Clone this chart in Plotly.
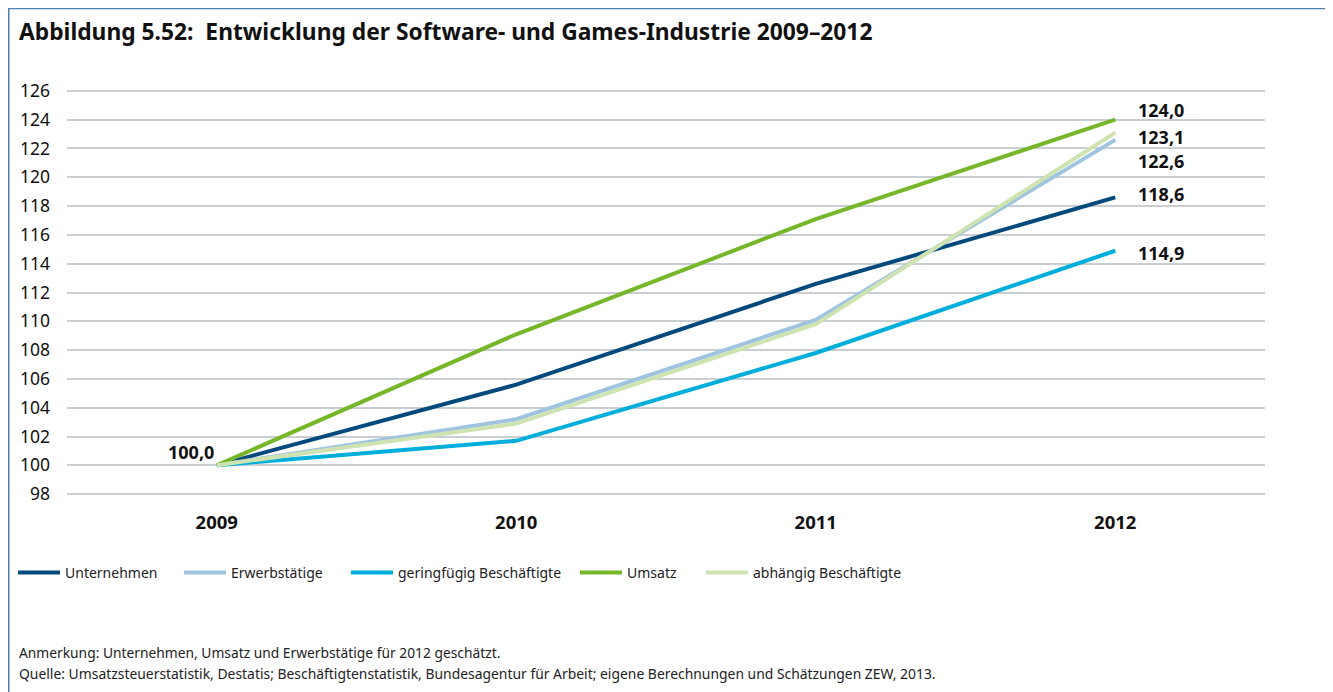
import plotly.graph_objects as go

years = ["2009", "2010", "2011", "2012"]
series_names = ["Unternehmen", "Erwerbstätige", "geringfügig Beschäftigte", "Umsatz", "abhängig Beschäftigte"]
unternehmen = [100.0, 105.6, 112.6, 118.6]
erwerbstaetige = [100.0, 103.2, 110.1, 122.6]
geringfuegig = [100.0, 101.7, 107.8, 114.9]
umsatz = [100.0, 109.1, 117.1, 124.0]
abhaengig = [100.0, 102.9, 109.8, 123.1]
colors = ["#00497d", "#9ec4e0", "#00aedb", "#76b72a", "#cfe3b1"]

y_ticks = list(range(98, 127, 2))
end_labels = ["118,6", "122,6", "114,9", "124,0", "123,1"]
start_label = "100,0"
title = "Abbildung 5.52:  Entwicklung der Software- und Games-Industrie 2009–2012"
note1 = "Anmerkung: Unternehmen, Umsatz und Erwerbstätige für 2012 geschätzt."
note2 = ("Quelle: Umsatzsteuerstatistik, Destatis; Beschäftigtenstatistik, Bundesagentur für Arbeit; "
         "eigene Berechnungen und Schätzungen ZEW, 2013.")

FONT = "Noto Sans"
OFF = 8  # page body margin
W, H = 1333, 692
L, R = 67 - OFF, 1265 - OFF
T, B = 88.1 - OFF, 496.9 - OFF
pw, ph = R - L, B - T

def px_x(x):
    return (x - OFF - L) / pw

def px_y(y):
    return (B - (y - OFF)) / ph

def cx(x):
    return (x - OFF) / W

def cy(y):
    return 1 - (y - OFF) / H

all_series = [unternehmen, erwerbstaetige, geringfuegig, umsatz, abhaengig]
legend_px = [20, 186, 353, 582, 708]
label_yshift = [3, -21, -2, 9.5, -4.5]

fig = go.Figure()
for i, (name, vals, col) in enumerate(zip(series_names, all_series, colors)):
    lg = "legend" if i == 0 else f"legend{i+1}"
    fig.add_trace(go.Scatter(
        x=years, y=vals, name=name, mode="lines",
        line=dict(color=col, width=4),
        legend=lg, hoverinfo="skip",
    ))
    fig.add_annotation(
        x=len(years) - 1, y=vals[-1], text=f"<b>{end_labels[i]}</b>",
        xanchor="left", yanchor="middle", xshift=21, yshift=label_yshift[i],
        showarrow=False, font=dict(family=FONT, size=18, color="#111111"),
    )

fig.add_annotation(
    x=0, y=unternehmen[0], text=f"<b>{start_label}</b>",
    xanchor="right", yanchor="middle", xshift=-1, yshift=13,
    showarrow=False, font=dict(family=FONT, size=18, color="#111111"),
)

legend_common = dict(
    orientation="h", yanchor="middle", xanchor="left",
    xref="container", yref="container",
    font=dict(family=FONT, size=14, color="#222222"),
    bgcolor="rgba(0,0,0,0)", borderwidth=0, itemwidth=42,
)
layout_legends = {}
for i, lx in enumerate(legend_px):
    key = "legend" if i == 0 else f"legend{i+1}"
    layout_legends[key] = dict(legend_common, x=cx(lx - 7), y=cy(573))

fig.update_layout(
    width=W, height=H,
    margin=dict(l=L, r=W - R, t=T, b=H - B),
    paper_bgcolor="white", plot_bgcolor="white",
    showlegend=True,
    font=dict(family=FONT, color="#111111"),
    xaxis=dict(
        type="category", range=[-0.5, 3.5], showgrid=False, zeroline=False,
        showline=False, ticks="", ticklabelstandoff=12, automargin=False,
        tickfont=dict(family=FONT, size=18.5, color="#111111", weight="bold"),
        fixedrange=True,
    ),
    yaxis=dict(
        range=[97.8, 126.2], tickvals=y_ticks, showgrid=True,
        gridcolor="#c9ced3", gridwidth=1.5, zeroline=False, showline=False,
        ticks="", ticklabelstandoff=16, automargin=False,
        tickfont=dict(family=FONT, size=17.5, color="#111111"),
        fixedrange=True,
    ),
    **layout_legends,
)

# title and notes
fig.add_annotation(
    xref="paper", yref="paper", x=px_x(17), y=px_y(32), text=f"<b>{title}</b>",
    xanchor="left", yanchor="middle", showarrow=False,
    font=dict(family=FONT, size=22.8, color="#111111"),
)
fig.add_annotation(
    xref="paper", yref="paper", x=px_x(17), y=px_y(652), text=note1,
    xanchor="left", yanchor="middle", showarrow=False,
    font=dict(family=FONT, size=13.8, color="#222222"),
)
fig.add_annotation(
    xref="paper", yref="paper", x=px_x(17), y=px_y(673), text=note2,
    xanchor="left", yanchor="middle", showarrow=False,
    font=dict(family=FONT, size=13.9, color="#222222"),
)

# frame
fig.add_shape(
    type="rect", xref="paper", yref="paper",
    x0=px_x(8.5), x1=px_x(1329), y0=px_y(720), y1=px_y(8.5),
    line=dict(color="#4b7fb0", width=2), fillcolor="rgba(0,0,0,0)", layer="below",
)

fig.write_html("out.html")
